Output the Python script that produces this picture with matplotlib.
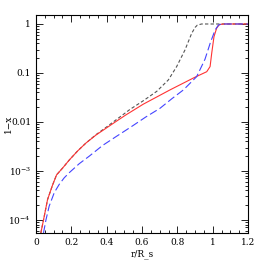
import numpy as np
import matplotlib.pyplot as plt
from matplotlib.ticker import LogLocator, MultipleLocator

plt.rcParams['font.family'] = ['DejaVu Serif']
plt.rcParams['mathtext.fontset'] = 'dejavuserif'

# black short dashes
r_black = [0.028, 0.047, 0.066, 0.094, 0.117, 0.151, 0.189, 0.236, 0.283, 0.34, 0.396,
           0.453, 0.532, 0.607, 0.683, 0.749, 0.796, 0.843, 0.881, 0.90, 0.913, 0.937, 1.0, 1.2]
y_black = [5.4e-5, 1.17e-4, 2.6e-4, 5.1e-4, 8.3e-4, 1.14e-3, 1.67e-3, 2.55e-3, 3.7e-3, 5.5e-3, 7.7e-3,
           0.011, 0.018, 0.027, 0.042, 0.072, 0.135, 0.295, 0.645, 0.85, 0.95, 1.0, 1.0, 1.0]

# red solid
r_red = [0.028, 0.047, 0.066, 0.094, 0.117, 0.151, 0.189, 0.236, 0.283, 0.34, 0.396,
         0.453, 0.509, 0.607, 0.758, 0.90, 0.966, 0.985, 0.994, 1.007, 1.022, 1.037, 1.06, 1.2]
y_red = [5.4e-5, 1.17e-4, 2.6e-4, 5.1e-4, 8.3e-4, 1.14e-3, 1.67e-3, 2.55e-3, 3.7e-3, 5.4e-3, 7.4e-3,
         0.0102, 0.0139, 0.023, 0.045, 0.082, 0.106, 0.135, 0.25, 0.55, 0.82, 0.97, 1.0, 1.0]

# blue long dashes
r_blue = [0.043, 0.057, 0.075, 0.104, 0.132, 0.16, 0.189, 0.245, 0.302, 0.377, 0.453, 0.51, 0.551,
          0.62, 0.702, 0.77, 0.834, 0.909, 0.956, 0.985, 1.013, 1.032, 1.05, 1.2]
y_blue = [5.4e-5, 1.0e-4, 1.9e-4, 3.6e-4, 5.3e-4, 7.2e-4, 9.2e-4, 1.4e-3, 2.0e-3, 3.3e-3, 5.0e-3, 6.8e-3, 8.5e-3,
          0.0125, 0.019, 0.030, 0.045, 0.084, 0.19, 0.40, 0.75, 0.95, 1.0, 1.0]

fig = plt.figure(figsize=(2.62, 2.62), dpi=100)
ax = fig.add_axes([0.137, 0.111, 0.81, 0.833])

ax.plot(r_black, y_black, color='#555555', lw=0.8, dashes=(3, 2))
ax.plot(r_red, y_red, color='#ff3333', lw=0.8)
ax.plot(r_blue, y_blue, color='#4444ff', lw=0.8, dashes=(7, 3))

ax.set_yscale('log')
ax.set_xlim(0, 1.2)
ax.set_ylim(5.4e-5, 1.55)

ax.set_xticks([0, 0.2, 0.4, 0.6, 0.8, 1.0, 1.2])
ax.set_xticklabels(['0', '0.2', '0.4', '0.6', '0.8', '1', '1.2'])
ax.xaxis.set_minor_locator(MultipleLocator(0.05))
ax.set_yticks([1e-4, 1e-3, 1e-2, 1e-1, 1])
ax.set_yticklabels([r'$10^{-4}$', r'$10^{-3}$', '0.01', '0.1', '1'])
ax.yaxis.set_minor_locator(LogLocator(base=10, subs=np.arange(2, 10)))

ax.tick_params(which='both', direction='in', top=True, right=True, labelsize=6.5, width=0.6)
ax.tick_params(which='major', length=5)
ax.tick_params(which='minor', length=2.5)
for s in ax.spines.values():
    s.set_linewidth(0.8)

ax.set_xlabel('r/R_s', fontsize=6.5, labelpad=2)
ax.set_ylabel('1\u2212x', fontsize=6.5)
ax.yaxis.set_label_coords(-0.11, 0.5)

fig.savefig('out.png', dpi=100)
